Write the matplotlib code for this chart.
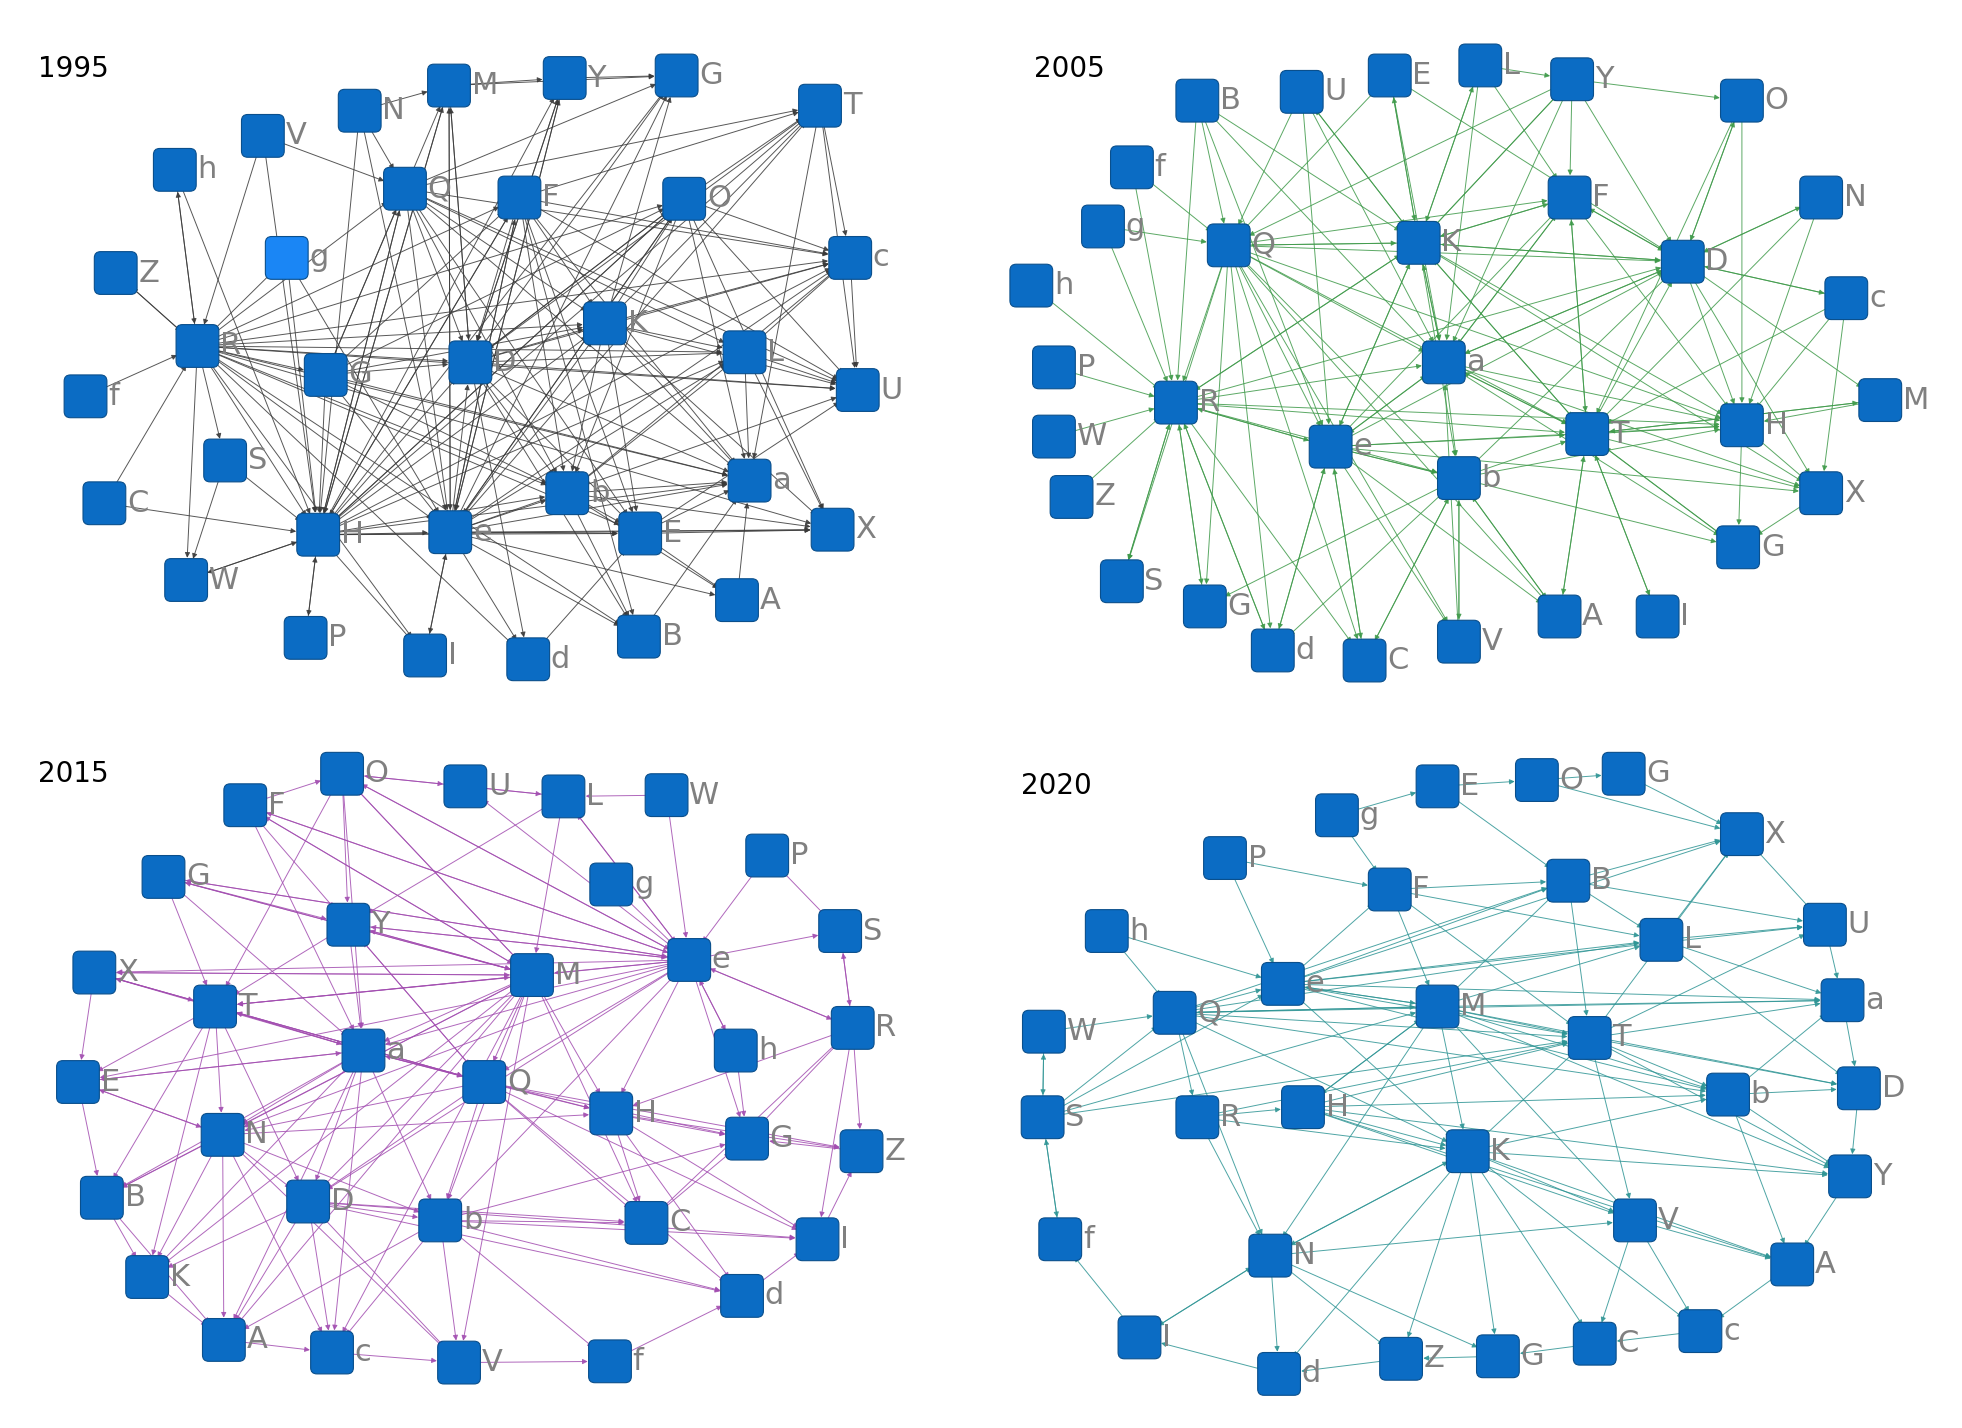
import matplotlib
matplotlib.use("Agg")
import matplotlib.pyplot as plt
from matplotlib.patches import FancyBboxPatch, FancyArrowPatch

# ----- node positions (pixel coords of a 1560x1130 view) -----
nodes_1995 = {
    "M": (357, 68), "Y": (449, 62), "G": (538, 60), "T": (652, 84), "N": (286, 88),
    "V": (209, 108), "h": (139, 135), "Q": (322, 150), "F": (413, 157), "O": (544, 158),
    "g": (228, 205), "Z": (92, 217), "c": (676, 205), "R": (157, 275), "K": (481, 257),
    "L": (592, 280), "D": (374, 288), "G2": (259, 298), "U": (682, 310), "f": (68, 315),
    "S": (179, 366), "b": (451, 392), "a": (596, 382), "C": (83, 400), "H": (253, 425),
    "e": (358, 423), "E": (509, 424), "X": (662, 421), "W": (148, 461), "A": (586, 477),
    "P": (243, 507), "I": (338, 521), "d": (420, 524), "B": (508, 506),
}
nodes_2005 = {
    "B": (952, 80), "U": (1035, 73), "E": (1105, 60), "L": (1177, 52), "Y": (1250, 63),
    "O": (1385, 80), "f": (900, 133), "g": (877, 180), "F": (1248, 157), "N": (1448, 157),
    "Q": (977, 195), "K": (1128, 193), "D": (1338, 208), "h": (820, 227), "c": (1468, 237),
    "a": (1148, 288), "P": (838, 292), "M": (1495, 318), "R": (935, 320), "W": (838, 347),
    "e": (1058, 355), "T": (1262, 345), "H": (1385, 338), "b": (1160, 380), "X": (1448, 392),
    "Z": (852, 395), "G": (1382, 435), "S": (892, 462), "G2": (958, 482), "A": (1240, 490),
    "I": (1318, 490), "d": (1012, 517), "C": (1085, 525), "V": (1160, 510),
}
nodes_2015 = {
    "O": (272, 615), "U": (370, 625), "L": (448, 633), "W": (530, 632), "F": (195, 640),
    "P": (610, 680), "G": (130, 697), "g": (486, 703), "Y": (277, 735), "S": (668, 740),
    "e": (548, 763), "X": (75, 773), "M": (423, 775), "T": (171, 800), "R": (678, 817),
    "a": (289, 835), "h": (585, 835), "E": (62, 860), "Q": (385, 860), "H": (486, 885),
    "N": (177, 902), "G2": (594, 905), "Z": (685, 915), "D": (245, 955), "B": (81, 952),
    "b": (350, 970), "C": (514, 972), "I": (650, 985), "K": (117, 1015), "d": (590, 1030),
    "A": (178, 1065), "c": (264, 1075), "V": (365, 1083), "f": (485, 1082),
}
nodes_2020 = {
    "E": (1143, 625), "O": (1222, 620), "G": (1291, 615), "g": (1063, 648), "X": (1385, 663),
    "P": (974, 682), "B": (1247, 700), "F": (1105, 707), "U": (1451, 735), "h": (880, 740),
    "L": (1321, 747), "a": (1465, 795), "e": (1020, 782), "M": (1143, 800), "Q": (934, 805),
    "W": (830, 820), "T": (1264, 825), "D": (1478, 865), "b": (1374, 870), "H": (1036, 880),
    "S": (829, 888), "R": (952, 888), "K": (1167, 915), "Y": (1471, 935), "V": (1300, 970),
    "A": (1425, 1005), "f": (843, 985), "N": (1010, 998), "I": (906, 1063), "c": (1352, 1058),
    "C": (1268, 1068), "G2": (1191, 1078), "Z": (1114, 1080), "d": (1017, 1092),
}

# ----- edges: "source: targets" (approximate) -----
edges_1995 = [
    "R: D e H K a L c U b E F Q O X B d I G2 S W h Z",
    "e: K D F O a E X B d I Y G M T c L b U A",
    "H: D K Q F O e b E X a M Y G T c L P I W",
    "Q: D e H K a c T U L b E G",
    "F: e H D K b a c U E B T",
    "O: e H D a b T c U X",
    "D: K a L c U b E B d Y G M O T",
    "K: a L U X E b c T O G",
    "G2: D e H K a b Q F O M",
    "M: Y e H D G",
    "N: M Q e H",
    "Y: G e D",
    "b: E a X A B L c",
    "E: X A a U",
    "L: U X a c",
    "T: c U a",
    "c: U",
    "V: Q R H",
    "h: R H",
    "g: H e R",
    "Z: R",
    "f: R",
    "C: H R",
    "S: H W",
    "A: a",
    "W: H",
    "P: H",
    "B: a",
    "d: E",
    "I: e",
]
edges_2005 = [
    "Q: K a e b T R D H F d S C V G2 A",
    "K: a e b T D H X R F Q L Y E U",
    "R: e b T a K D H S d G2 C",
    "e: T b a K D H R X G A V d C",
    "a: T b D H K F e X G",
    "T: H D X G M I A K a F",
    "b: T H D A V C d G2",
    "D: H X N O c F K a M",
    "F: K a D T e H",
    "B: Q K R e a",
    "U: K Q a e",
    "E: K a Q D",
    "L: K Y F a",
    "Y: F D K Q a O",
    "O: D H T",
    "N: D T H",
    "c: D T H X",
    "M: H T",
    "H: X G",
    "X: G",
    "f: R Q",
    "g: Q R",
    "h: R",
    "P: R",
    "W: R",
    "Z: R",
    "S: R",
    "G2: R",
    "d: e R",
    "C: e b",
    "V: b a",
    "A: T b",
    "I: T",
    "G: T",
]
edges_2015 = [
    "e: M a Q T Y O F G X E N D b H G2 R S h L U",
    "M: a Q T Y O F G X N D b H C A c V K B",
    "Q: H G2 b D N T a Y C d I Z",
    "a: Q H b D N T E X B K A c",
    "T: a Q N D B K E X M",
    "N: D b K A c V B E H",
    "D: b C A c V K d I",
    "b: C d I V f A c G2",
    "H: G2 Z I C d",
    "R: Z I G2 H C S e",
    "Y: M a e Q T",
    "O: U M e a T Y",
    "F: e M a Y O",
    "G: M e T a Y",
    "X: E T M Q",
    "E: B N a",
    "B: K A",
    "K: A",
    "A: c",
    "c: V",
    "V: f",
    "f: d",
    "d: I",
    "I: Z",
    "Z: G2",
    "L: e M Y O",
    "W: e L",
    "P: e S",
    "g: e",
    "h: G2 e",
    "S: R",
    "U: L",
    "C: G2",
]
edges_2020 = [
    "M: T b a D Y L B e Q H K N V",
    "T: b a D Y U X V K",
    "K: V A c C G2 Z d N Y b",
    "e: M T B L X U a b K F",
    "Q: e M T L B a b K N R",
    "H: K V T b M Y A",
    "R: K N H T",
    "N: d Z G2 I K V",
    "F: B M T L",
    "B: L X U T",
    "L: U a D X",
    "b: D Y A a",
    "V: A c C",
    "S: W f Q e M T",
    "W: S Q",
    "h: Q e",
    "P: e F",
    "g: E F",
    "E: O B",
    "O: G X",
    "G: X",
    "X: U",
    "U: a",
    "a: D",
    "D: Y",
    "Y: A",
    "A: c",
    "c: C",
    "C: G2",
    "G2: Z",
    "Z: d",
    "d: I",
    "I: N f",
    "f: S",
]

panels = [
    ("1995", (30, 55), nodes_1995, edges_1995, "#3a3a3a"),
    ("2005", (822, 55), nodes_2005, edges_2005, "#3f9a4a"),
    ("2015", (30, 615), nodes_2015, edges_2015, "#a24db0"),
    ("2020", (812, 625), nodes_2020, edges_2020, "#2f9595"),
]

fig = plt.figure(figsize=(19.62, 14.28), dpi=100)
ax = fig.add_axes([0, 0, 1, 1])
ax.set_xlim(0, 1560)
ax.set_ylim(1135, 0)
ax.axis("off")

S = 34  # node square size
for year, ypos, nodes, edges, col in panels:
    ax.text(ypos[0], ypos[1], year, fontsize=20, color="black", va="center")
    for line in edges:
        src, tgts = line.split(":")
        for t in tgts.split():
            a = FancyArrowPatch(nodes[src.strip()], nodes[t], arrowstyle="-|>,head_length=3,head_width=1.5",
                                color=col, lw=0.7, alpha=0.85, shrinkA=14, shrinkB=16, zorder=1)
            ax.add_patch(a)
    for name, (x, y) in nodes.items():
        fc = "#1a86f5" if (year == "1995" and name == "g") else "#0b6cc4"
        ax.add_patch(FancyBboxPatch((x - S / 2, y - S / 2), S, S, boxstyle="round,pad=0,rounding_size=5",
                                    fc=fc, ec="#0a4f8c", lw=0.8, zorder=2))
        ax.text(x + S / 2 + 1, y, name[0], fontsize=22, color="#808080", va="center", ha="left",
                zorder=3)

fig.savefig("out.png", dpi=100)
